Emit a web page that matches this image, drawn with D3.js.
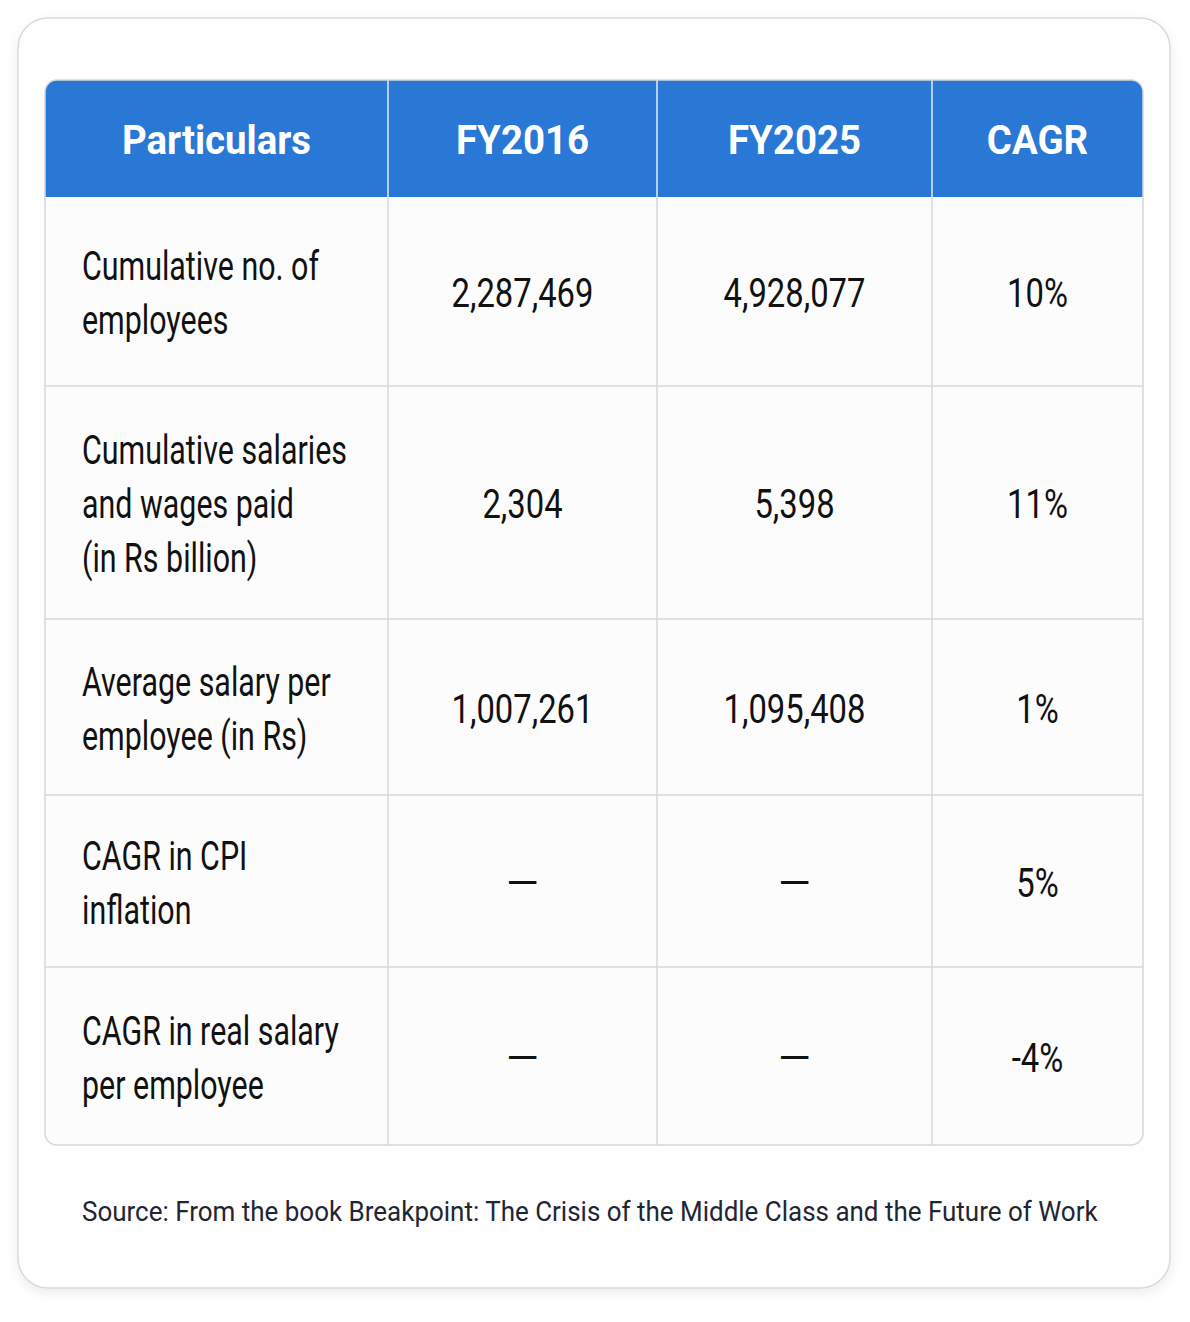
<!DOCTYPE html>
<html lang="en">
<head>
<meta charset="UTF-8">
<title>Salaries table</title>
<script src="https://d3js.org/d3.v7.min.js"></script>
<style>
  body { margin: 0; background: #ffffff; }
</style>
</head>
<body>
<div id="chart"></div>
<script>
// data
const columns = ["Particulars", "FY2016", "FY2025", "CAGR"];
const particulars = [
  ["Cumulative no. of", "employees"],
  ["Cumulative salaries", "and wages paid", "(in Rs billion)"],
  ["Average salary per", "employee (in Rs)"],
  ["CAGR in CPI", "inflation"],
  ["CAGR in real salary", "per employee"]
];
const fy2016 = [2287469, 2304, 1007261, null, null];
const fy2025 = [4928077, 5398, 1095408, null, null];
const cagr = [0.10, 0.11, 0.01, 0.05, -0.04];
const source = "Source: From the book Breakpoint: The Crisis of the Middle Class and the Future of Work";

// layout
const width = 1190, height = 1322;
const card = { x: 18, y: 18, w: 1152, h: 1270, r: 30 };
const table = { x: 45, y: 80, header: 117, r: 12 };
const colWidths = [343, 269, 275, 211];
const rowHeights = [189, 233, 176, 172, 178];
const lineH = 54;
const squeezeHead = 0.96;
const squeezeLabel = 0.76;
const squeezeValue = 0.82;

const colX = [0, ...d3.cumsum(colWidths)];
const rowY = [0, ...d3.cumsum(rowHeights)].map(d => d + table.header);
const tableW = colX[colX.length - 1];
const tableH = rowY[rowY.length - 1];

const loc = d3.formatLocale({ decimal: ".", thousands: ",", grouping: [3], currency: ["", ""], minus: "-" });
const dash = "\u2014";
const fmtNum = v => v == null ? dash : loc.format(",")(v);
const fmtPct = loc.format(".0%");

const svg = d3.select('#chart')
  .append('svg')
  .attr('width', width)
  .attr('height', height);

const defs = svg.append('defs');
const shadow = defs.append('filter').attr('id', 'shadow')
  .attr('x', '-5%').attr('y', '-5%').attr('width', '110%').attr('height', '112%');
shadow.append('feDropShadow')
  .attr('dx', 0).attr('dy', 4).attr('stdDeviation', 6)
  .attr('flood-color', '#000').attr('flood-opacity', 0.08);

defs.append('clipPath').attr('id', 'tableClip')
  .append('rect')
  .attr('width', tableW).attr('height', tableH)
  .attr('rx', table.r);

// card
svg.append('rect')
  .attr('x', card.x).attr('y', card.y)
  .attr('width', card.w).attr('height', card.h)
  .attr('rx', card.r)
  .attr('fill', '#fefefe')
  .attr('stroke', '#d9d9de')
  .attr('stroke-width', 1.5)
  .attr('filter', 'url(#shadow)');

const g = svg.append('g')
  .attr('transform', `translate(${table.x},${table.y})`);

const body = g.append('g').attr('clip-path', 'url(#tableClip)');

body.append('rect')
  .attr('width', tableW).attr('height', tableH)
  .attr('fill', '#fcfcfc');

body.append('rect')
  .attr('width', tableW).attr('height', table.header)
  .attr('fill', '#2a78d6');

// grid
body.selectAll('line.row')
  .data(rowY.slice(1, -1))
  .join('line')
  .attr('class', 'row')
  .attr('x1', 0).attr('x2', tableW)
  .attr('y1', d => d).attr('y2', d => d)
  .attr('stroke', '#d8d9dd').attr('stroke-width', 1.5);

body.selectAll('line.colh')
  .data(colX.slice(1, -1))
  .join('line')
  .attr('class', 'colh')
  .attr('x1', d => d).attr('x2', d => d)
  .attr('y1', 0).attr('y2', table.header)
  .attr('stroke', '#e3ecf8').attr('stroke-width', 1.5);

body.selectAll('line.col')
  .data(colX.slice(1, -1))
  .join('line')
  .attr('class', 'col')
  .attr('x1', d => d).attr('x2', d => d)
  .attr('y1', table.header).attr('y2', tableH)
  .attr('stroke', '#d8d9dd').attr('stroke-width', 1.5);

g.append('rect')
  .attr('width', tableW).attr('height', tableH)
  .attr('rx', table.r)
  .attr('fill', 'none')
  .attr('stroke', '#d5d7db')
  .attr('stroke-width', 1.5);

// header text
g.selectAll('g.head')
  .data(columns)
  .join('g')
  .attr('class', 'head')
  .attr('transform', (d, i) => `translate(${(colX[i] + colX[i + 1]) / 2},${table.header / 2 + 2}) scale(${squeezeHead},1)`)
  .append('text')
  .attr('text-anchor', 'middle')
  .attr('dominant-baseline', 'central')
  .attr('font-family', 'Roboto, sans-serif')
  .attr('font-weight', 700)
  .attr('font-size', 40)
  .attr('fill', '#ffffff')
  .text(d => d);

// body rows
const rows = particulars.map((p, i) => ({
  lines: p,
  cells: [fmtNum(fy2016[i]), fmtNum(fy2025[i]), fmtPct(cagr[i])],
  y: (rowY[i] + rowY[i + 1]) / 2
}));

const row = g.selectAll('g.r')
  .data(rows)
  .join('g')
  .attr('class', 'r');

row.each(function (d) {
  const r = d3.select(this);
  const n = d.lines.length;
  r.selectAll('g.lbl')
    .data(d.lines)
    .join('g')
    .attr('class', 'lbl')
    .attr('transform', (t, j) => `translate(37,${d.y + 2 + (j - (n - 1) / 2) * lineH}) scale(${squeezeLabel},1)`)
    .append('text')
    .attr('dominant-baseline', 'central')
    .attr('font-family', 'Roboto, sans-serif')
    .attr('font-size', 40)
    .attr('fill', '#111111')
    .text(t => t);

  r.selectAll('g.val')
    .data(d.cells)
    .join('g')
    .attr('class', 'val')
    .attr('transform', (t, j) => `translate(${(colX[j + 1] + colX[j + 2]) / 2},${d.y + 2}) scale(${t === dash ? 1.05 : squeezeValue},1)`)
    .append('text')
    .attr('text-anchor', 'middle')
    .attr('dominant-baseline', 'central')
    .attr('font-family', 'Roboto, sans-serif')
    .attr('font-size', 40)
    .attr('fill', '#111111')
    .text(t => t);
});

// source
svg.append('g')
  .attr('transform', `translate(82,1211) scale(0.962,1)`)
  .append('text')
  .attr('dominant-baseline', 'central')
  .attr('font-family', 'Roboto, sans-serif')
  .attr('font-size', 27)
  .attr('fill', '#1f2633')
  .text(source);
</script>
</body>
</html>
